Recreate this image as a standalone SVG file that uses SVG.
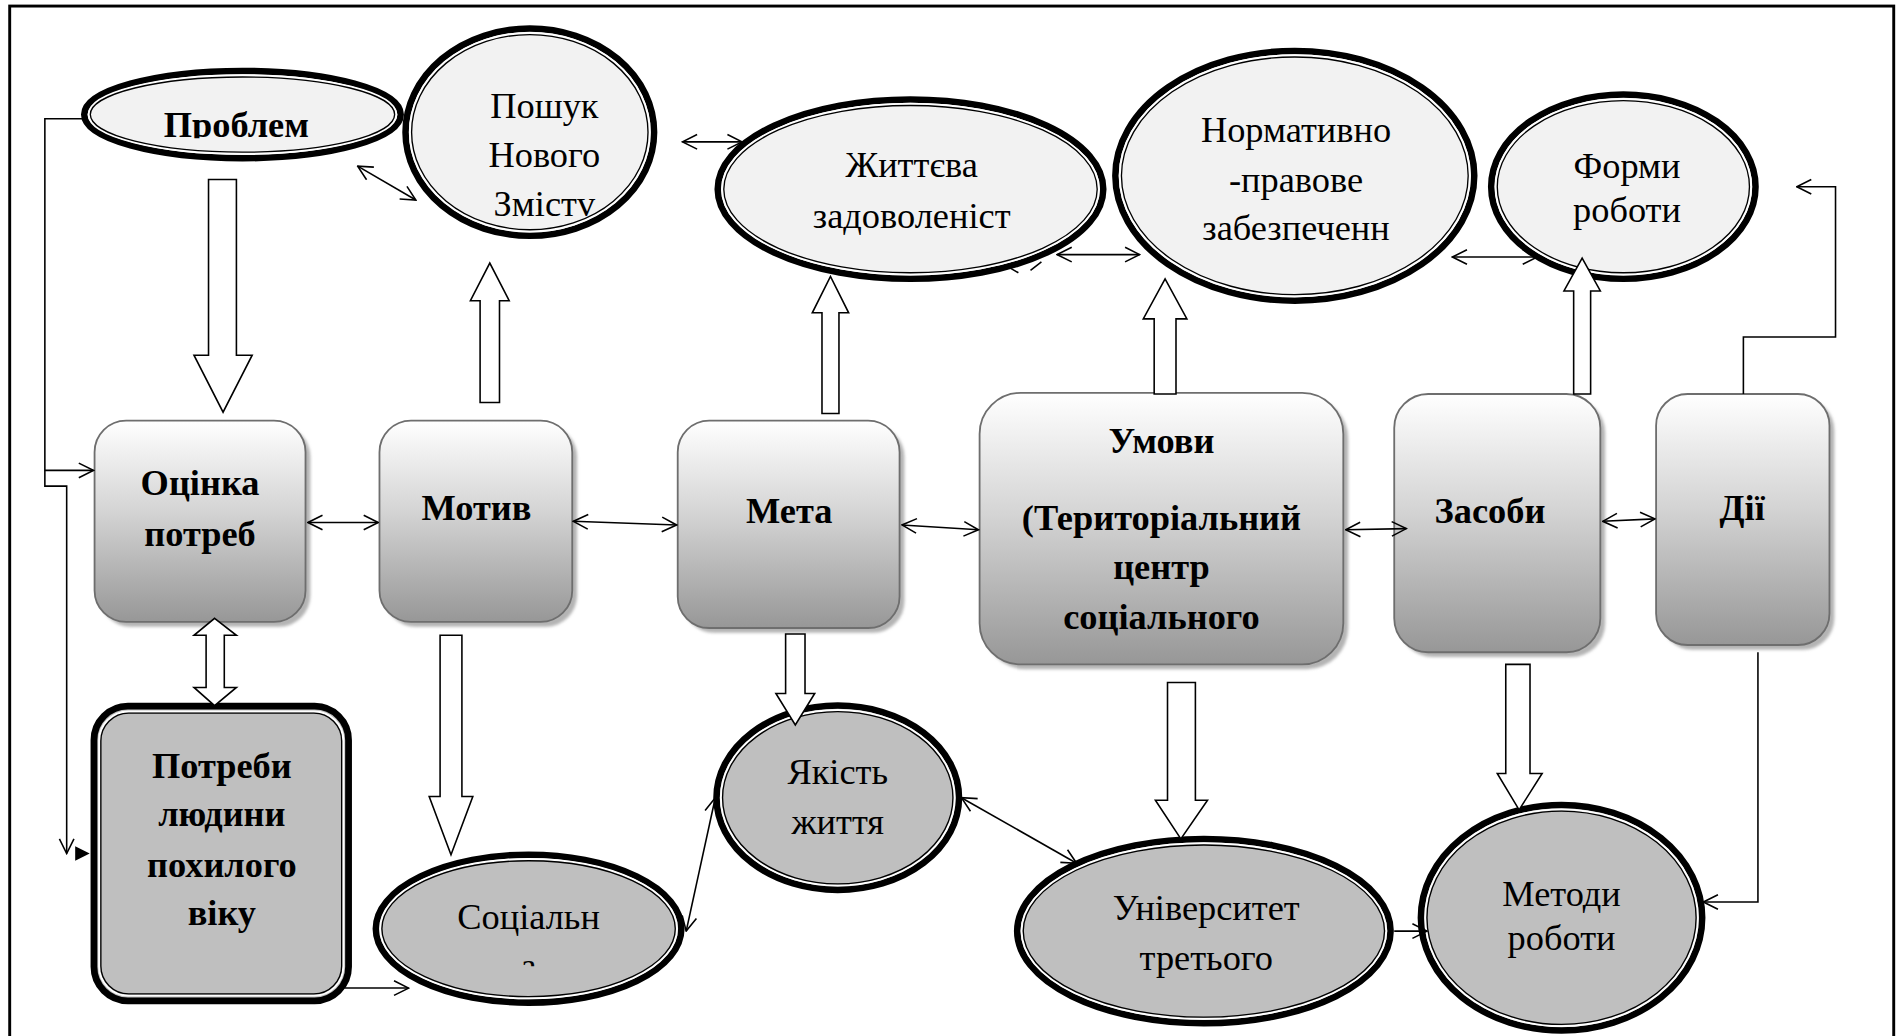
<svg xmlns="http://www.w3.org/2000/svg" width="1901" height="1036" viewBox="0 0 1901 1036">
<style>
.box{fill:url(#g);stroke:#6e6e6e;stroke-width:1.5}
.sh{fill:#b4b4b4;filter:url(#bl)}
.eo{stroke:#000;stroke-width:5.4}
.ew{fill:none;stroke:#fff;stroke-width:1.6}
.ei{fill:none;stroke:#000;stroke-width:1.1}
.lt{fill:#f2f2f2}
.dk{fill:#bfbfbf}
.tb{font-family:"Liberation Serif","Times New Roman",serif;font-weight:bold;font-size:30px;text-anchor:middle;fill:#000}
.tr{font-family:"Liberation Serif","Times New Roman",serif;font-size:30px;text-anchor:middle;fill:#000}
.ln{fill:none;stroke:#000;stroke-width:1.3}
.ar{fill:none;stroke:#000;stroke-width:1.3;marker-end:url(#ah)}
.dar{fill:none;stroke:#000;stroke-width:1.3;marker-start:url(#ah);marker-end:url(#ah)}
.blk{fill:#fff;stroke:#000;stroke-width:1.3}
</style>
<defs>
<linearGradient id="g" x1="0" y1="0" x2="0" y2="1">
<stop offset="0" stop-color="#ffffff"/>
<stop offset="0.45" stop-color="#d4d4d4"/>
<stop offset="1" stop-color="#979797"/>
</linearGradient>
<filter id="bl" x="-10%" y="-10%" width="120%" height="120%"><feGaussianBlur stdDeviation="1.5"/></filter>
<marker id="ah" viewBox="0 0 14 14" refX="13" refY="7" markerWidth="14" markerHeight="14" orient="auto-start-reverse" markerUnits="userSpaceOnUse">
<path d="M1,1 L13,7 L1,13" fill="none" stroke="#000" stroke-width="1.3"/>
</marker>
<clipPath id="cp1"><rect x="60" y="60" width="280" height="54"/></clipPath>
<clipPath id="cp2"><rect x="300" y="700" width="270" height="97"/></clipPath>
</defs>
<rect width="1901" height="1036" fill="#fff"/>
<g transform="scale(1.21237)">
<rect x="8" y="5" width="1554" height="900" fill="#fff" stroke="#000" stroke-width="2.4"/>

<g id="node-problem">
<ellipse class="eo lt" cx="200" cy="94.5" rx="130.5" ry="36"/>
<ellipse class="ew" cx="200" cy="94.5" rx="126.9" ry="32.4"/>
<ellipse class="ei" cx="200" cy="94.5" rx="125.5" ry="31"/>
<text class="tb" x="195" y="113" clip-path="url(#cp1)">Проблем</text>
</g>

<g id="node-search">
<ellipse class="eo lt" cx="437" cy="109" rx="102.5" ry="85.5"/>
<ellipse class="ew" cx="437" cy="109" rx="98.9" ry="81.9"/>
<ellipse class="ei" cx="437" cy="109" rx="97.5" ry="80.5"/>
<text class="tr" x="449" y="97">Пошук</text>
<text class="tr" x="449" y="138">Нового</text>
<text class="tr" x="449" y="178">Змістv</text>
</g>

<g id="node-life-satisfaction">
<ellipse class="eo lt" cx="751" cy="156" rx="159" ry="74"/>
<ellipse class="ew" cx="751" cy="156" rx="155.4" ry="70.4"/>
<ellipse class="ei" cx="751" cy="156" rx="154" ry="69"/>
<text class="tr" x="752" y="146">Життєва</text>
<text class="tr" x="752" y="188">задоволеніст</text>
</g>

<g id="node-normative">
<ellipse class="eo lt" cx="1068" cy="145" rx="148" ry="103"/>
<ellipse class="ew" cx="1068" cy="145" rx="144.4" ry="99.4"/>
<ellipse class="ei" cx="1068" cy="145" rx="143" ry="98"/>
<text class="tr" x="1069" y="117">Нормативно</text>
<text class="tr" x="1069" y="158">-правове</text>
<text class="tr" x="1069" y="198">забезпеченн</text>
</g>

<g id="node-forms">
<ellipse class="eo lt" cx="1339" cy="154" rx="109" ry="76"/>
<ellipse class="ew" cx="1339" cy="154" rx="105.4" ry="72.4"/>
<ellipse class="ei" cx="1339" cy="154" rx="104" ry="71"/>
<text class="tr" x="1342" y="147">Форми</text>
<text class="tr" x="1342" y="183">роботи</text>
</g>

<g id="node-assessment">
<rect class="sh" x="82" y="351" width="174" height="166" rx="26"/>
<rect class="box" x="78" y="347" width="174" height="166" rx="26"/>
<text class="tb" x="165" y="408">Оцінка</text>
<text class="tb" x="165" y="450">потреб</text>
</g>

<g id="node-motive">
<rect class="sh" x="317" y="351" width="159" height="166" rx="26"/>
<rect class="box" x="313" y="347" width="159" height="166" rx="26"/>
<text class="tb" x="393" y="429">Мотив</text>
</g>

<g id="node-goal">
<rect class="sh" x="563" y="351" width="183" height="171" rx="26"/>
<rect class="box" x="559" y="347" width="183" height="171" rx="26"/>
<text class="tb" x="651" y="431">Мета</text>
</g>

<g id="node-conditions">
<rect class="sh" x="812" y="328" width="300" height="224" rx="34"/>
<rect class="box" x="808" y="324" width="300" height="224" rx="34"/>
<text class="tb" x="958" y="374">Умови</text>
<text class="tb" x="958" y="437">(Територіальний</text>
<text class="tb" x="958" y="478">центр</text>
<text class="tb" x="958" y="519">соціального</text>
</g>

<g id="node-means">
<rect class="sh" x="1154" y="329" width="170" height="213" rx="28"/>
<rect class="box" x="1150" y="325" width="170" height="213" rx="28"/>
<text class="tb" x="1229" y="431">Засоби</text>
</g>

<g id="node-actions">
<rect class="sh" x="1370" y="329" width="143" height="207" rx="26"/>
<rect class="box" x="1366" y="325" width="143" height="207" rx="26"/>
<text class="tb" x="1437" y="429">Дії</text>
</g>

<g id="node-needs">
<rect x="77.5" y="582.5" width="210" height="243" rx="28" fill="#bfbfbf" stroke="#000" stroke-width="5.6"/>
<rect x="81.8" y="586.8" width="201.4" height="234.4" rx="24" fill="none" stroke="#fff" stroke-width="1.6"/>
<rect x="83.2" y="588.2" width="198.6" height="231.6" rx="23" fill="none" stroke="#000" stroke-width="1.1"/>
<text class="tb" x="183" y="642">Потреби</text>
<text class="tb" x="183" y="681">людини</text>
<text class="tb" x="183" y="723">похилого</text>
<text class="tb" x="183" y="763">віку</text>
</g>

<g id="node-social">
<ellipse class="eo dk" cx="436" cy="766" rx="126" ry="61"/>
<ellipse class="ew" cx="436" cy="766" rx="122.4" ry="57.4"/>
<ellipse class="ei" cx="436" cy="766" rx="121" ry="56"/>
<g clip-path="url(#cp2)">
<text class="tr" x="436" y="766">Соціальн</text>
<text class="tr" x="436" y="807">а</text>
</g>
</g>

<g id="node-quality">
<ellipse class="eo dk" cx="691" cy="658" rx="100" ry="76"/>
<ellipse class="ew" cx="691" cy="658" rx="96.4" ry="72.4"/>
<ellipse class="ei" cx="691" cy="658" rx="95" ry="71"/>
<text class="tr" x="691" y="647">Якість</text>
<text class="tr" x="691" y="688">життя</text>
</g>

<g id="node-university">
<ellipse class="eo dk" cx="993" cy="768" rx="154" ry="76"/>
<ellipse class="ew" cx="993" cy="768" rx="150.4" ry="72.4"/>
<ellipse class="ei" cx="993" cy="768" rx="149" ry="71"/>
<text class="tr" x="995" y="759">Університет</text>
<text class="tr" x="995" y="800">третього</text>
</g>

<g id="node-methods">
<ellipse class="eo dk" cx="1288" cy="757" rx="116" ry="93"/>
<ellipse class="ew" cx="1288" cy="757" rx="112.4" ry="89.4"/>
<ellipse class="ei" cx="1288" cy="757" rx="111" ry="88"/>
<text class="tr" x="1288" y="747">Методи</text>
<text class="tr" x="1288" y="784">роботи</text>
</g>

<g id="connectors">
<polygon class="blk" points="172,148 195,148 195,293 208,293 184,340 160,293 172,293"/>
<polygon class="blk" points="396,332 412,332 412,248 420,248 404,217 388,248 396,248"/>
<polygon class="blk" points="678,341 692,341 692,258 700,258 685,228 670,258 678,258"/>
<polygon class="blk" points="952,325 970,325 970,263 979,263 961,230 943,263 952,263"/>
<polygon class="blk" points="1298,325 1312,325 1312,240 1320,240 1305,213 1290,240 1298,240"/>
<polygon class="blk" points="177,510 195,524 185,524 185,567 195,567 177,582 160,567 170,567 170,524 160,524"/>
<polygon class="blk" points="363,524 381,524 381,657 390,657 372,705 354,657 363,657"/>
<polygon class="blk" points="648,523 664,523 664,572 672,572 656,598 640,572 648,572"/>
<polygon class="blk" points="963,563 986,563 986,660 996,660 974,692 953,660 963,660"/>
<polygon class="blk" points="1242,548 1262,548 1262,638 1272,638 1253,668 1235,638 1242,638"/>

<path class="dar" d="M254,431 L312,431"/>
<path class="dar" d="M473,430 L558,433"/>
<path class="dar" d="M744,433 L807,437"/>
<path class="dar" d="M1110,437 L1160,436"/>
<path class="dar" d="M1322,430 L1365,428"/>
<path class="dar" d="M295,137 L343,165"/>
<path class="dar" d="M563,117 L612,117"/>
<path class="dar" d="M872,210 L940,210"/>
<path class="ln" d="M833,221 L840,225 M850,223 L859,216"/>
<path class="dar" d="M1198,212 L1268,212"/>
<path class="dar" d="M566,768 L590,658"/>
<path class="dar" d="M793,658 L888,712"/>
<path class="ar" d="M1150,768 L1177,768"/>
<path class="ar" d="M284,815 L337,815"/>
<path class="ar" d="M1438,325 L1438,278 L1514,278 L1514,154 L1482,154"/>
<path class="ar" d="M1450,538 L1450,744 L1405,744"/>
<path class="ar" d="M68,98 L37,98 L37,388 L77,388"/>
<path class="ar" d="M37,388 L37,401 L55,401 L55,704"/>
<polygon points="62,698 74,704 62,710" fill="#000"/>
</g>
</g>
</svg>
